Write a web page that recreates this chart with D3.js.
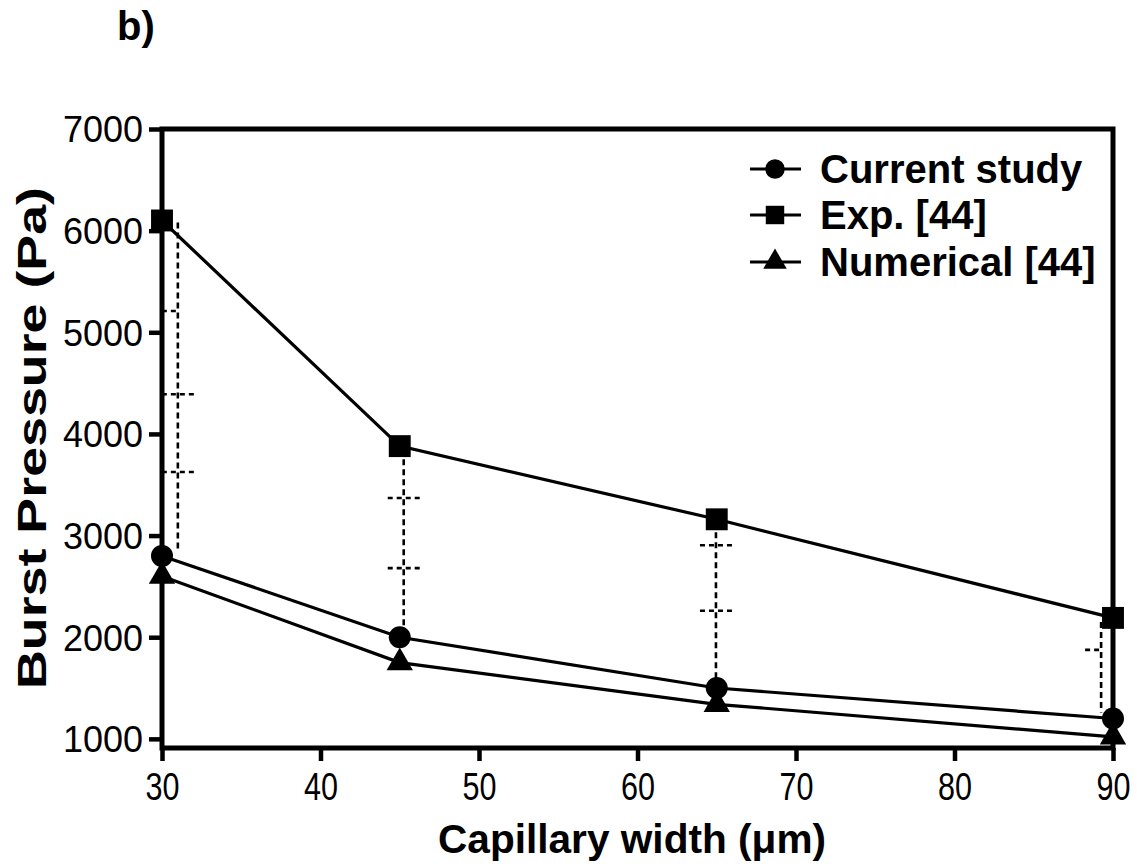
<!DOCTYPE html>
<html><head><meta charset="utf-8">
<script src="https://cdn.jsdelivr.net/npm/d3@7"></script>
<style>body{margin:0;background:#fff}svg{display:block}text{font-family:"Liberation Sans",Arial,sans-serif;fill:#000}</style>
</head><body>
<svg id="c" width="1137" height="868"></svg>
<script>
const widths = [30, 45, 65, 90];
const currentStudy = [2800, 2000, 1500, 1200];
const expData = [6100, 3880, 3160, 2190];
const numerical = [2600, 1750, 1340, 1020];
const seriesNames = ["Current study", "Exp. [44]", "Numerical [44]"];
const xTicks = [30, 40, 50, 60, 70, 80, 90];
const yTicks = [1000, 2000, 3000, 4000, 5000, 6000, 7000];
// dashed range bars: x position (µm), top, bottom, inner tick values, tick sides
const errX = [31, 45.25, 64.95, 89.25];
const errTop = [6080, 3850, 3130, 2150];
const errBottom = [2870, 2060, 1570, 1260];
const errTicks = [[5210, 4390, 3625], [3370, 2680], [2905, 2260], [1875]];
const errTickSide = [["left", "both", "both"], ["both", "both"], ["both", "both"], ["left"]];

const svg = d3.select("#c");
const x = d3.scaleLinear().domain([30, 90]).range([162, 1113]);
const y = d3.scaleLinear().domain([910, 7000]).range([748, 129]);

// panel letter
svg.append("text").attr("x", 117).attr("y", 40).attr("font-size", 40).attr("font-weight", "bold").text("b)");

// dashed range bars
const eg = svg.append("g").attr("stroke", "#000").attr("stroke-width", 2.6).attr("stroke-dasharray", "6,4").attr("fill", "none");
widths.forEach((w, i) => {
  eg.append("line").attr("x1", x(errX[i])).attr("x2", x(errX[i])).attr("y1", y(errTop[i])).attr("y2", y(errBottom[i]));
  errTicks[i].forEach((t, j) => {
    const side = errTickSide[i][j];
    const x0 = x(errX[i]);
    eg.append("line").attr("x1", x0 - 16).attr("x2", side === "both" ? x0 + 16 : x0)
      .attr("y1", y(t)).attr("y2", y(t)).attr("stroke-dasharray", "5,4");
  });
});

// series lines
const line = d3.line().x((d, i) => x(widths[i])).y(d => y(d));
[currentStudy, expData, numerical].forEach(s => {
  svg.append("path").datum(s).attr("d", line).attr("fill", "none").attr("stroke", "#000").attr("stroke-width", 3.2);
});

// frame & axes
svg.append("rect").attr("x", x(30)).attr("y", y(7000)).attr("width", x(90) - x(30)).attr("height", y(910) - y(7000))
  .attr("fill", "none").attr("stroke", "#000").attr("stroke-width", 5);

const yAxis = svg.append("g").attr("transform", `translate(${x(30)},0)`)
  .call(d3.axisLeft(y).tickValues(yTicks).tickSize(13).tickPadding(6).tickFormat(d3.format("d")));
yAxis.select(".domain").remove();
yAxis.selectAll(".tick line").attr("stroke-width", 4.5);
yAxis.selectAll(".tick text").attr("font-size", 36).attr("font-family", "Liberation Sans, Arial, sans-serif").attr("dy", "0.36em");

const xAxis = svg.append("g").attr("transform", `translate(0,${y(910)})`)
  .call(d3.axisBottom(x).tickValues(xTicks).tickSize(13).tickPadding(12).tickFormat(d3.format("d")));
xAxis.select(".domain").remove();
xAxis.selectAll(".tick line").attr("stroke-width", 4.5);
xAxis.selectAll(".tick text").attr("font-size", 38).attr("font-family", "Liberation Sans, Arial, sans-serif")
  .attr("textLength", 34).attr("lengthAdjust", "spacingAndGlyphs").attr("dy", "0.71em");

// markers
const sym = {
  circle: d3.symbol().type(d3.symbolCircle).size(380),
  square: d3.symbol().type(d3.symbolSquare).size(480),
  triangle: d3.symbol().type(d3.symbolTriangle).size(300)
};
const markerTypes = ["circle", "square", "triangle"];
[currentStudy, expData, numerical].forEach((s, k) => {
  svg.append("g").selectAll("path").data(s).join("path")
    .attr("d", sym[markerTypes[k]]())
    .attr("transform", (d, i) => `translate(${x(widths[i])},${y(d)})`).attr("fill", "#000");
});

// axis titles
svg.append("text").attr("x", 632).attr("y", 853).attr("text-anchor", "middle").attr("font-size", 41).attr("font-weight", "bold")
  .attr("textLength", 388).attr("lengthAdjust", "spacingAndGlyphs").text("Capillary width (\u03bcm)");
svg.append("text").attr("transform", "translate(46,438) rotate(-90)").attr("text-anchor", "middle").attr("font-size", 41).attr("font-weight", "bold")
  .attr("textLength", 502).attr("lengthAdjust", "spacingAndGlyphs").text("Burst Pressure (Pa)");

// legend
const legY = [169, 215, 262];
const lsym = {
  circle: d3.symbol().type(d3.symbolCircle).size(300),
  square: d3.symbol().type(d3.symbolSquare).size(340),
  triangle: d3.symbol().type(d3.symbolTriangle).size(240)
};
seriesNames.forEach((n, k) => {
  const g = svg.append("g").attr("transform", `translate(0,${legY[k]})`);
  g.append("line").attr("x1", 750).attr("x2", 801).attr("stroke", "#000").attr("stroke-width", 3.2);
  g.append("path").attr("d", lsym[markerTypes[k]]()).attr("transform", "translate(775,0)");
  g.append("text").attr("x", 820).attr("y", 14).attr("font-size", 40).attr("font-weight", "bold").text(n);
});
</script>
</body></html>
